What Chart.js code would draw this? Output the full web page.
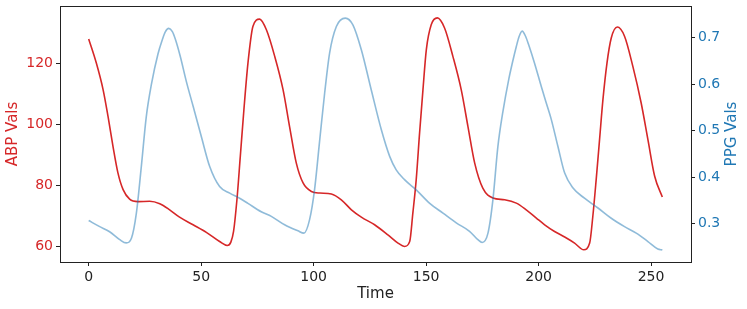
<!DOCTYPE html>
<html lang="en">
<head>
  <meta charset="UTF-8" />
  <title>ABP vs PPG</title>
  <script src="https://cdn.jsdelivr.net/npm/chart.js"></script>
  <style>
    body { margin: 0; background: #fff; }
    canvas { display: block; }
  </style>
</head>
<body>
  <canvas id="waveChart" width="747" height="309"></canvas>

  <script>
    // values
    const abpTime = [0, 3.4, 6.4, 8.6, 10.8, 13.0, 15.3, 18.2, 21.9, 27.1, 31.6, 36.0, 40.4, 46.4, 52.3, 58.2, 61.6, 63.2, 64.4, 65.9, 67.4, 69.0, 70.8, 73.0, 76.0, 79.0, 82.7, 86.4, 89.3, 92.3, 95.3, 99.0, 102.7, 107.9, 112.3, 116.8, 121.2, 127.1, 133.0, 137.5, 140.4, 142.7, 144.1, 145.6, 147.1, 148.6, 150.1, 152.3, 155.0, 158.2, 161.9, 165.6, 168.6, 171.6, 175.2, 179.7, 184.9, 190.1, 194.5, 199.0, 202.7, 207.1, 211.6, 216.0, 220.1, 222.7, 224.1, 225.6, 227.1, 228.6, 230.4, 232.3, 235.0, 238.2, 241.9, 245.6, 248.6, 251.6, 255];
    const abpVals = [128.1, 120.2, 111.5, 102.7, 92.9, 84.2, 78.7, 75.6, 74.8, 74.9, 74.1, 72.1, 69.7, 67.2, 64.7, 61.7, 60.4, 61.5, 65.0, 75.4, 89.6, 104.9, 120.2, 132.2, 134.6, 131.1, 122.4, 111.5, 99.4, 87.4, 80.9, 78.1, 77.6, 77.3, 75.4, 72.1, 69.7, 67.2, 63.9, 61.2, 60.1, 61.7, 71.0, 82.0, 97.3, 111.5, 124.6, 132.8, 135.0, 131.7, 122.4, 111.5, 99.4, 87.4, 79.2, 76.0, 75.4, 74.3, 72.1, 69.4, 67.2, 65.0, 63.2, 61.2, 59.0, 61.2, 69.9, 82.0, 95.1, 108.2, 120.2, 128.4, 132.0, 129.0, 119.1, 107.1, 95.1, 83.1, 76.3];

    const ppgTime = [0, 4.9, 9.3, 13.8, 16.7, 19.0, 21.2, 23.4, 25.6, 27.9, 30.8, 32.7, 34.0, 35.6, 37.2, 38.5, 40.7, 43.4, 46.4, 50.1, 53.8, 58.2, 62.7, 67.1, 70.8, 76.7, 81.2, 87.1, 93.0, 95.7, 98.2, 100.4, 102.7, 104.9, 107.1, 110.1, 114.1, 117.5, 121.2, 125.6, 130.1, 133.8, 136.7, 140.4, 145.6, 151.6, 157.5, 163.4, 169.3, 173.0, 174.9, 177.5, 179.7, 181.9, 184.1, 186.8, 188.3, 190.1, 191.3, 192.7, 194.2, 195.7, 198.2, 201.2, 203.0, 205.6, 208.6, 211.6, 215.3, 220.4, 226.4, 232.3, 238.2, 243.4, 248.6, 253.0, 255];
    const ppgVals = [0.307, 0.294, 0.283, 0.266, 0.259, 0.269, 0.323, 0.423, 0.530, 0.600, 0.665, 0.695, 0.712, 0.720, 0.713, 0.697, 0.660, 0.606, 0.553, 0.487, 0.423, 0.380, 0.366, 0.355, 0.344, 0.326, 0.316, 0.298, 0.285, 0.280, 0.309, 0.373, 0.480, 0.581, 0.667, 0.724, 0.742, 0.727, 0.674, 0.588, 0.502, 0.445, 0.416, 0.395, 0.373, 0.344, 0.323, 0.302, 0.284, 0.266, 0.260, 0.280, 0.352, 0.466, 0.540, 0.612, 0.645, 0.681, 0.702, 0.714, 0.703, 0.683, 0.645, 0.595, 0.566, 0.525, 0.466, 0.409, 0.377, 0.355, 0.334, 0.312, 0.294, 0.280, 0.262, 0.246, 0.244];

    const xTicks = [0, 50, 100, 150, 200, 250];
    const abpTicks = [60, 80, 100, 120];
    const ppgTicks = [0.3, 0.4, 0.5, 0.6, 0.7];

    const RED = '#d62728';
    const BLUE = '#1f77b4';
    const INK = '#222';
    const FONT = 'DejaVu Sans';

    const toPoints = (xs, ys) => xs.map((x, i) => ({ x, y: ys[i] }));
    const setTicks = vals => axis => { axis.ticks = vals.map(v => ({ value: v })); };
    // fixed axis boxes, no extra label padding
    const fixBox = (w, h) => s => {
      if (w) s.width = w;
      if (h) s.height = h;
      s.paddingTop = s.paddingBottom = s.paddingLeft = s.paddingRight = 0;
    };

    // full box round the plot + right title reading bottom-to-top
    const framePlugin = {
      id: 'frame',
      afterDraw(chart) {
        const { ctx, chartArea: a } = chart;
        ctx.save();
        ctx.strokeStyle = INK;
        ctx.lineWidth = 1;
        ctx.strokeRect(Math.round(a.left) + 0.5, Math.round(a.top) + 0.5,
          Math.round(a.right - a.left), Math.round(a.bottom - a.top));
        ctx.translate(732, (a.top + a.bottom) / 2);
        ctx.rotate(-Math.PI / 2);
        ctx.fillStyle = BLUE;
        ctx.font = `15px "${FONT}"`;
        ctx.textAlign = 'center';
        ctx.textBaseline = 'middle';
        ctx.fillText('PPG Vals', 0, 0);
        ctx.restore();
      }
    };

    new Chart(document.getElementById('waveChart'), {
      type: 'line',
      data: {
        datasets: [
          {
            label: 'PPG',
            data: toPoints(ppgTime, ppgVals),
            yAxisID: 'yR',
            borderColor: 'rgba(31,119,180,0.5)',
            borderWidth: 1.6,
            pointRadius: 0,
            cubicInterpolationMode: 'monotone',
            order: 0
          },
          {
            label: 'ABP',
            data: toPoints(abpTime, abpVals),
            yAxisID: 'yL',
            borderColor: RED,
            borderWidth: 1.6,
            pointRadius: 0,
            cubicInterpolationMode: 'monotone',
            order: 1
          }
        ]
      },
      options: {
        responsive: false,
        animation: false,
        layout: { padding: { top: 6, left: 0, right: 0, bottom: 0 } },
        plugins: { legend: { display: false }, tooltip: { enabled: false } },
        scales: {
          x: {
            type: 'linear',
            min: -12.75,
            max: 267.75,
            afterBuildTicks: setTicks(xTicks),
            afterFit: fixBox(0, 47),
            grid: { drawOnChartArea: false, tickLength: 4, color: INK },
            border: { color: INK },
            ticks: { color: INK, font: { family: FONT, size: 14 }, padding: 3, maxRotation: 0 },
            title: { display: true, text: 'Time', color: INK, font: { family: FONT, size: 15 }, padding: { top: 0, bottom: 6 } }
          },
          yL: {
            position: 'left',
            min: 55,
            max: 138.9,
            afterBuildTicks: setTicks(abpTicks),
            afterFit: fixBox(60, 0),
            grid: { drawOnChartArea: false, tickLength: 4, color: INK },
            border: { color: INK },
            ticks: { color: RED, font: { family: FONT, size: 14 }, padding: 3 },
            title: { display: true, text: 'ABP Vals', color: RED, font: { family: FONT, size: 15 }, padding: { top: 4, bottom: 4 } }
          },
          yR: {
            position: 'right',
            min: 0.218,
            max: 0.768,
            afterBuildTicks: setTicks(ppgTicks),
            afterFit: fixBox(56, 0),
            grid: { drawOnChartArea: false, tickLength: 4, color: INK },
            border: { color: INK },
            ticks: { color: BLUE, font: { family: FONT, size: 14 }, padding: 3, callback: v => v.toFixed(1) }
          }
        }
      },
      plugins: [framePlugin]
    });
  </script>
</body>
</html>
